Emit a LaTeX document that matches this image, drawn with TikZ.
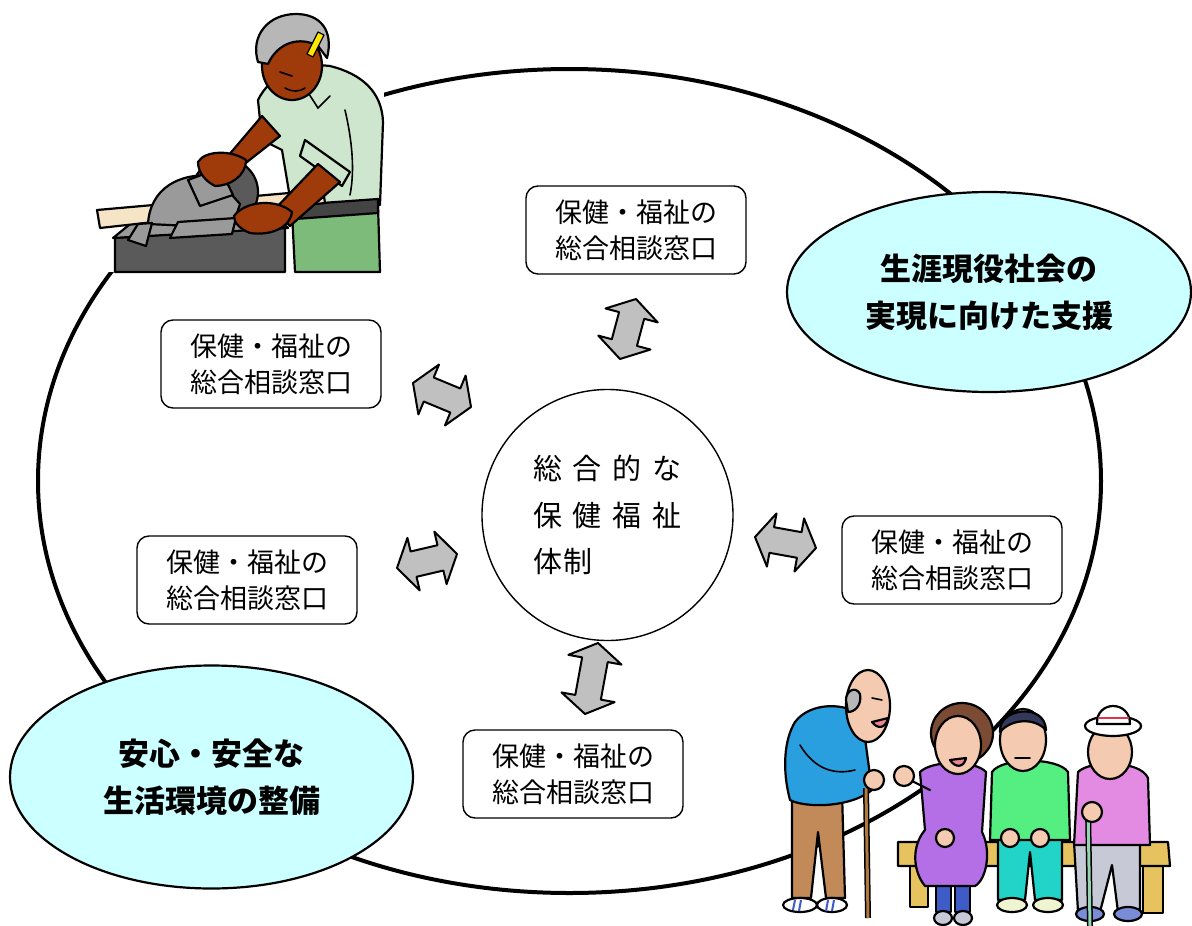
\documentclass[tikz,border=0pt]{standalone}
\usepackage{fontspec}
\newfontfamily\jp{Noto Sans CJK JP}
\usetikzlibrary{shapes.geometric,calc}

\definecolor{cyanlite}{HTML}{CCFFFF}
\definecolor{arrowgray}{HTML}{C0C0C0}
\definecolor{skinbrown}{HTML}{9F3A0B}
\definecolor{shirtc}{HTML}{CDE6CD}
\definecolor{pantsc}{HTML}{7CBB7A}
\definecolor{beltc}{HTML}{444444}
\definecolor{boardc}{HTML}{F5E5C6}
\definecolor{haircol}{HTML}{B7B7B7}
\definecolor{sawdark}{HTML}{5A5A5A}
\definecolor{sawmid}{HTML}{9A9A9A}
\definecolor{skin}{HTML}{F4CBB0}
\definecolor{bluesw}{HTML}{2A9FE0}
\definecolor{brownpants}{HTML}{C28A58}
\definecolor{purplesw}{HTML}{B46FE6}
\definecolor{hairbrown}{HTML}{7B4B33}
\definecolor{greensw}{HTML}{55EE80}
\definecolor{tealpants}{HTML}{22D3C8}
\definecolor{pinksw}{HTML}{E38BE3}
\definecolor{graypants}{HTML}{C8C9D6}
\definecolor{benchc}{HTML}{E7C35F}
\definecolor{shoepale}{HTML}{EFF5D0}
\definecolor{legblue}{HTML}{3E5BC6}
\definecolor{hatband}{HTML}{E0344A}
\definecolor{canec}{HTML}{B07A3C}
\definecolor{canegreen}{HTML}{96D4B4}
\definecolor{hairnavy}{HTML}{34385A}

% double-headed block arrow between two named points
\newcommand\dblarrow[2]{%
  \coordinate (#1-h) at ($(#1)!17pt!(#2)$);
  \coordinate (#2-h) at ($(#2)!17pt!(#1)$);
  \draw[blockarrow] (#1)
    -- ($(#1-h)!27pt!90:(#2)$) -- ($(#1-h)!13pt!90:(#2)$)
    -- ($(#2-h)!13pt!-90:(#1)$) -- ($(#2-h)!27pt!-90:(#1)$)
    -- (#2)
    -- ($(#2-h)!27pt!90:(#1)$) -- ($(#2-h)!13pt!90:(#1)$)
    -- ($(#1-h)!13pt!-90:(#2)$) -- ($(#1-h)!27pt!-90:(#2)$)
    -- cycle;}

\begin{document}
\begin{tikzpicture}[x=1pt,y=-1pt,
  box/.style={draw, rounded corners=12pt, line width=1.4pt, minimum width=220pt,
    minimum height=88pt, align=center, fill=white,
    font=\jp\fontsize{27pt}{36pt}\selectfont},
  goal/.style={ellipse, draw, line width=2.2pt, fill=cyanlite, align=center,
    inner sep=0pt, font=\jp\bfseries\fontsize{31pt}{47pt}\selectfont},
  blockarrow/.style={draw, fill=arrowgray, line width=2pt, line join=round},
  fig/.style={draw=black, line width=2.2pt, line join=round, line cap=round},
  thin/.style={draw=black, line width=1.6pt, line cap=round},
]
\useasboundingbox (0,0) rectangle (1192,926);

% outer ring
\node[ellipse, draw, line width=4pt, inner sep=0pt, minimum width=1063pt,
  minimum height=824pt] (ring) at (569.5,481) {};

% goals
\node[goal, minimum width=404pt, minimum height=200pt] (g1) at (989,292)
  {生涯現役社会の\\実現に向けた支援};
\node[goal, minimum width=403pt, minimum height=223pt] (g2) at (211.5,777)
  {安心・安全な\\生活環境の整備};

% centre
\node[circle, draw, line width=1.4pt, minimum size=251pt, align=left, fill=white,
  font=\jp\fontsize{29pt}{46.5pt}\selectfont] (core) at (607.5,515)
  {総\hspace{11pt}合\hspace{11pt}的\hspace{11pt}な\\保\hspace{11pt}健\hspace{11pt}福\hspace{11pt}祉\\体\hspace{2pt}制};

% consultation desks
\node[box] (d1) at (636,230) {保健・福祉の\\総合相談窓口};
\node[box] (d2) at (271,364) {保健・福祉の\\総合相談窓口};
\node[box] (d3) at (247,580) {保健・福祉の\\総合相談窓口};
\node[box] (d4) at (952,560) {保健・福祉の\\総合相談窓口};
\node[box] (d5) at (573,774) {保健・福祉の\\総合相談窓口};

% arrow tips
\coordinate (a1s) at (636,299); \coordinate (a1e) at (620,359);
\coordinate (a2s) at (413,383); \coordinate (a2e) at (471,407);
\coordinate (a3s) at (397,568); \coordinate (a3e) at (457,554);
\coordinate (a4s) at (755,537); \coordinate (a4e) at (816,548);
\coordinate (a5s) at (598,643); \coordinate (a5e) at (585,714);
\dblarrow{a1s}{a1e}
\dblarrow{a2s}{a2e}
\dblarrow{a3s}{a3e}
\dblarrow{a4s}{a4e}
\dblarrow{a5s}{a5e}

% ---- carpenter at the table saw ----
\fill[white] (98,6) rectangle (384,272);
% torso
\draw[fig, fill=shirtc] (258,100) .. controls (270,75) and (300,62) .. (330,66)
  .. controls (362,74) and (382,92) .. (383,122) -- (380,205) -- (292,210)
  -- (282,150) -- (262,140) -- cycle;
\draw[thin] (300,80) -- (318,108) -- (330,96);
\draw[thin] (345,110) .. controls (352,140) and (355,170) .. (350,195);
% trousers and belt
\draw[fig, fill=pantsc] (292,212) -- (378,205) -- (380,272) -- (295,272) -- cycle;
\draw[fig, fill=beltc] (294,205) -- (378,199) -- (378,213) -- (295,219) -- cycle;
% head and hair
\draw[fig, fill=skinbrown] (292,66) ellipse [x radius=30pt, y radius=34pt];
\draw[fig, fill=haircol] (258,62) .. controls (250,36) and (268,14) .. (296,14)
  .. controls (320,14) and (334,30) .. (327,58) -- (318,46)
  .. controls (300,36) and (278,42) .. (268,64) -- cycle;
\draw[fig, line width=1.2pt, fill=yellow!90!orange] (307,54) -- (318,32) -- (324,35) -- (313,57) -- cycle;
\draw[thin] (280,72) -- (292,76);
\draw[thin] (285,88) .. controls (292,92) and (300,92) .. (305,88);
% table saw
\draw[fig, fill=sawdark] (115,238) -- (285,226) -- (285,272) -- (115,272) -- cycle;
\draw[fig, fill=sawmid] (113,238) -- (140,216) -- (266,207) -- (288,228) -- cycle;
\draw[fig, fill=boardc] (97,210) -- (323,190) -- (325,203) -- (100,228) -- cycle;
\draw[fig, fill=sawdark] (225,192) circle (33pt);
\draw[fig, fill=sawmid] (148,224) .. controls (150,188) and (180,172) .. (215,176)
  -- (240,204) -- (232,228) -- cycle;
\draw[fig, fill=sawmid] (188,180) -- (220,168) -- (233,195) -- (200,206) -- cycle;
\draw[fig, fill=sawmid] (128,240) -- (138,224) -- (152,223) -- (146,246) -- cycle;
\draw[fig, fill=sawmid] (170,238) -- (178,222) -- (236,218) -- (232,234) -- cycle;
% arms and hands
\draw[fig, fill=skinbrown] (262,116) -- (280,136) -- (242,166) -- (228,156) -- cycle;
\draw[fig, fill=skinbrown] (198,162) .. controls (205,150) and (232,150) .. (246,160)
  .. controls (246,176) and (230,186) .. (215,186) .. controls (205,181) and (198,172) .. (198,162) -- cycle;
\draw[fig, fill=shirtc] (305,140) -- (350,172) -- (342,186) -- (300,156) -- cycle;
\draw[fig, fill=skinbrown] (318,164) -- (340,182) -- (290,226) -- (274,210) -- cycle;
\draw[fig, fill=skinbrown] (234,216) .. controls (245,201) and (276,198) .. (292,212)
  .. controls (290,228) and (270,236) .. (250,233) .. controls (240,229) and (234,223) .. (234,216) -- cycle;

% ---- seniors on the bench ----
\draw[fig, fill=benchc] (910,864) rectangle (928,907);
\draw[fig, fill=benchc] (1143,864) rectangle (1163,913);
\draw[fig, fill=benchc] (898,842) -- (1168,842) -- (1170,866) -- (898,866) -- cycle;
% standing man with cane
\draw[fig, fill=brownpants] (792,792) -- (842,792) -- (845,898) -- (826,898)
  -- (818,832) -- (811,898) -- (792,898) -- cycle;
\draw[fig, fill=white] (800,905) ellipse [x radius=17pt, y radius=7pt];
\draw[fig, fill=white] (832,905) ellipse [x radius=15pt, y radius=7pt];
\draw[line width=2pt, legblue] (795,900) -- (793,910) (801,900) -- (799,911) (828,900) -- (826,911) (834,900) -- (832,911);
\draw[fig, fill=bluesw] (795,722) .. controls (810,702) and (845,702) .. (862,716)
  -- (872,790) .. controls (850,808) and (805,808) .. (790,800)
  .. controls (782,770) and (784,740) .. (795,722) -- cycle;
\draw[thin] (800,745) .. controls (815,770) and (835,775) .. (855,770);
\draw[fig, fill=skin] (868,706) ellipse [x radius=22pt, y radius=36pt];
\draw[fig, fill=haircol] (846,700) .. controls (846,690) and (856,686) .. (860,694)
  .. controls (862,705) and (855,712) .. (848,712) -- cycle;
\draw[thin] (872,698) -- (882,700);
\draw[fig, fill=hatband!60] (872,722) .. controls (878,730) and (886,728) .. (888,718) -- cycle;
\draw[line width=6pt, black] (866,788) -- (868,918);
\draw[line width=3pt, canec] (866,788) -- (868,918);
\draw[fig, fill=skin] (874,780) circle (10pt);
% woman in purple
\draw[fig, fill=legblue] (936,880) rectangle (951,912);
\draw[fig, fill=legblue] (955,880) rectangle (970,912);
\draw[fig, fill=graypants] (943,918) ellipse [x radius=9pt, y radius=7pt];
\draw[fig, fill=graypants] (963,918) ellipse [x radius=9pt, y radius=7pt];
\draw[fig, fill=purplesw] (920,772) .. controls (932,760) and (975,760) .. (986,772)
  -- (982,832) .. controls (992,852) and (986,880) .. (975,886) -- (925,886)
  .. controls (912,870) and (912,845) .. (925,830) -- cycle;
\draw[fig, fill=hairbrown] (962,733) ellipse [x radius=31pt, y radius=30pt];
\draw[fig, fill=skin] (958,745) ellipse [x radius=23pt, y radius=29pt];
\draw[fig, fill=hatband!60] (950,760) .. controls (955,768) and (964,768) .. (966,758) -- cycle;
\draw[fig] (930,790) -- (910,780);
\draw[fig, fill=skin] (904,776) circle (10pt);
\draw[fig, fill=skin] (945,838) circle (9pt);
% man in green
\draw[fig, fill=tealpants] (998,832) -- (1062,832) -- (1062,900) -- (1035,900)
  -- (1030,852) -- (1025,900) -- (998,900) -- cycle;
\draw[fig, fill=shoepale] (1012,905) ellipse [x radius=15pt, y radius=7pt];
\draw[fig, fill=shoepale] (1048,905) ellipse [x radius=15pt, y radius=7pt];
\draw[fig, fill=greensw] (992,772) .. controls (1002,757) and (1058,757) .. (1068,772)
  -- (1070,840) -- (990,840) -- cycle;
\draw[fig, fill=skin] (1023,740) ellipse [x radius=23pt, y radius=31pt];
\draw[fig, fill=hairnavy] (1000,732) .. controls (998,708) and (1045,702) .. (1046,730)
  .. controls (1035,718) and (1012,718) .. (1000,732) -- cycle;
\draw[thin] (1015,758) -- (1030,758);
\draw[fig, fill=skin] (1010,838) circle (9pt);
\draw[fig, fill=skin] (1040,838) circle (9pt);
% man in pink with hat
\draw[fig, fill=graypants] (1074,842) -- (1140,842) -- (1140,912) -- (1118,912)
  -- (1112,865) -- (1100,912) -- (1078,912) -- cycle;
\draw[fig, fill=legblue!70] (1090,914) ellipse [x radius=14pt, y radius=7pt];
\draw[fig, fill=legblue!70] (1128,914) ellipse [x radius=14pt, y radius=7pt];
\draw[fig, fill=pinksw] (1078,772) .. controls (1090,760) and (1140,760) .. (1148,778)
  -- (1150,845) -- (1074,845) -- cycle;
\draw[fig, fill=skin] (1110,752) ellipse [x radius=22pt, y radius=27pt];
\draw[fig, fill=white] (1113,726) ellipse [x radius=28pt, y radius=10pt];
\draw[fig, fill=white] (1097,724) .. controls (1096,700) and (1130,700) .. (1130,724) -- cycle;
\draw[line width=2.5pt, hatband] (1098,718) -- (1129,718);
\draw[line width=6pt, black] (1088,808) -- (1090,926);
\draw[line width=3pt, canegreen] (1088,808) -- (1090,926);
\draw[fig, fill=skin] (1092,812) circle (10pt);
\end{tikzpicture}
\end{document}
